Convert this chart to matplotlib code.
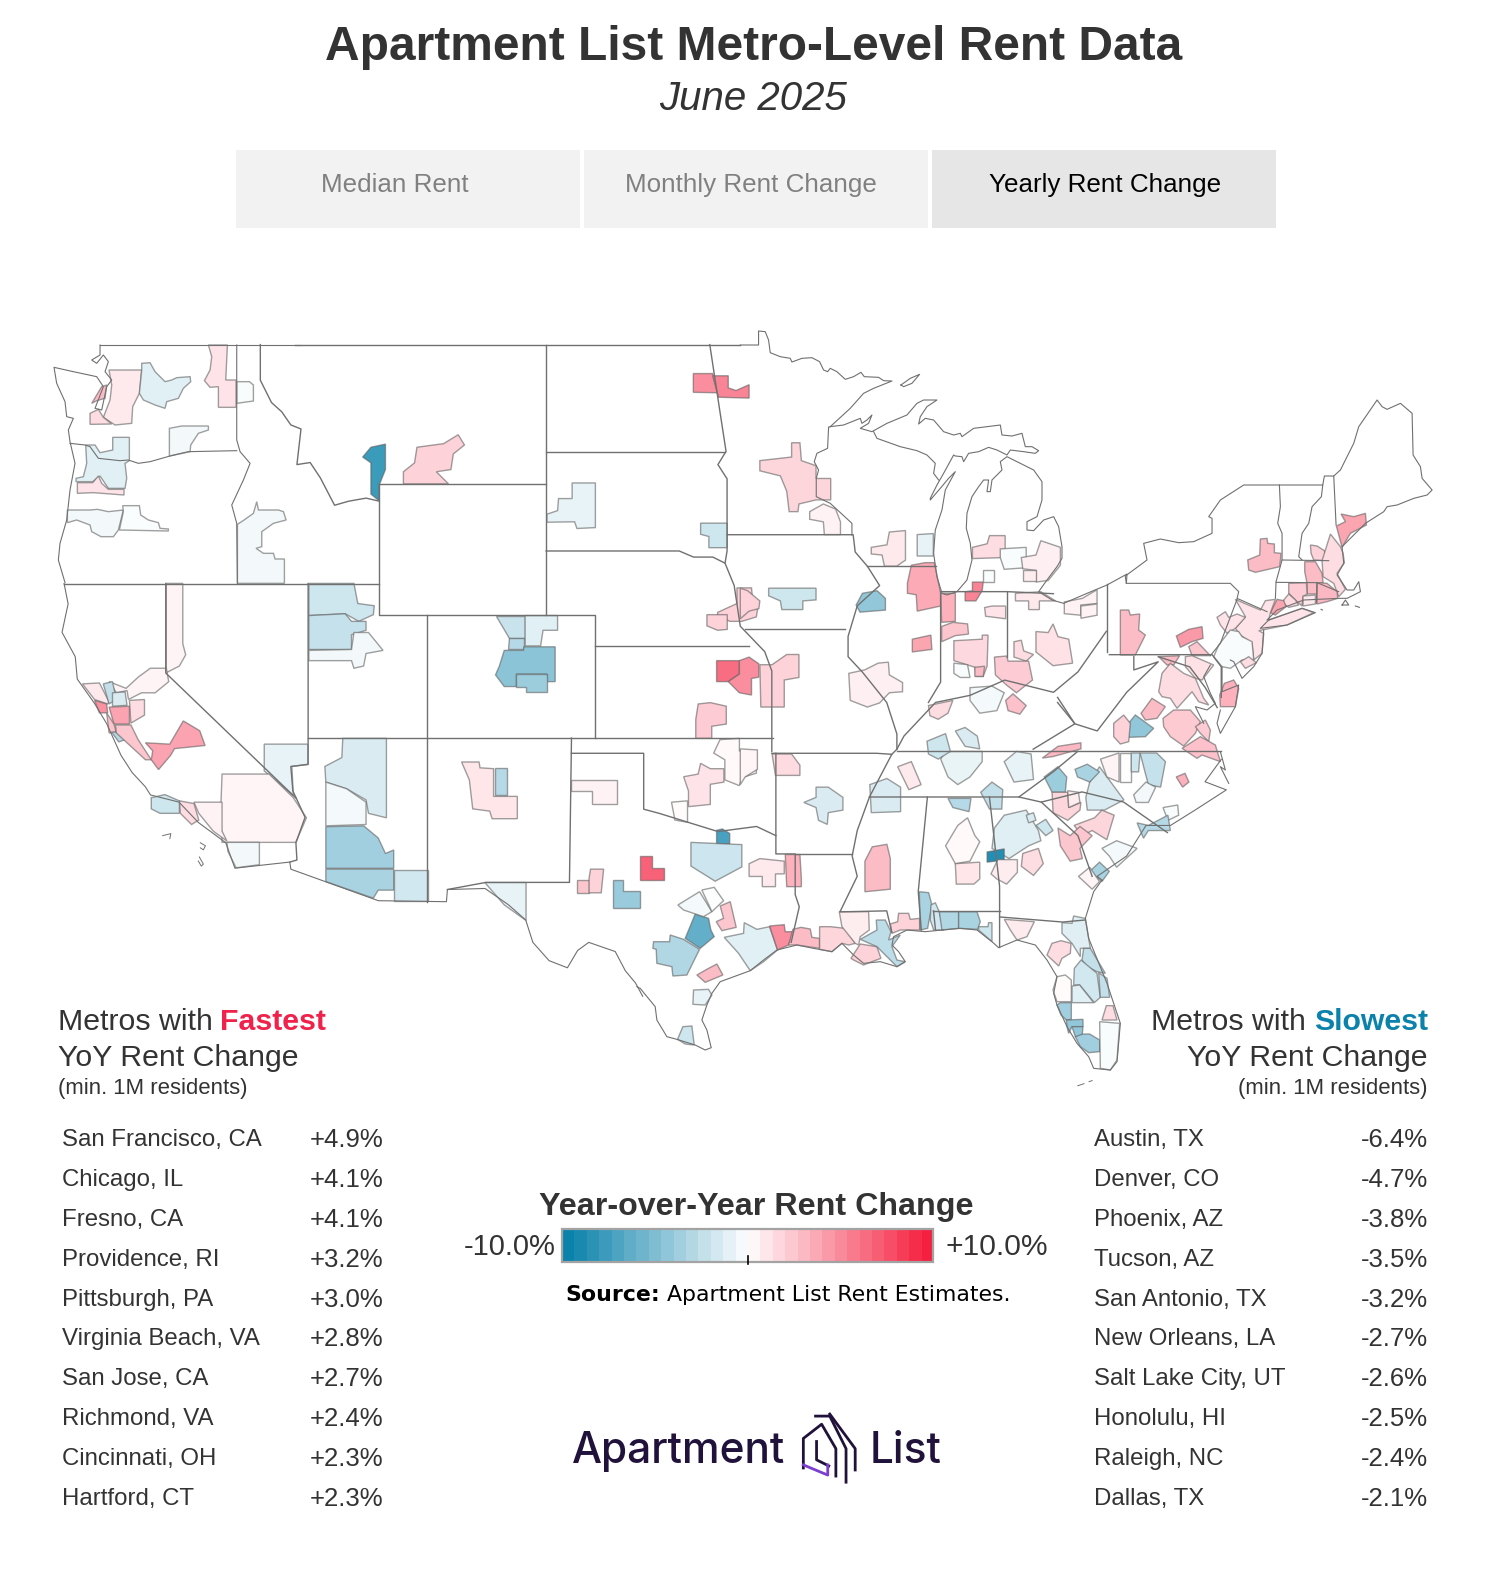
import matplotlib
matplotlib.use('Agg')
import matplotlib.pyplot as plt
from matplotlib.colors import LinearSegmentedColormap
from matplotlib.patches import Polygon, Rectangle
import numpy as np

plt.rcParams['font.family'] = ['Liberation Sans', 'DejaVu Sans']

fastest_names = ['San Francisco, CA', 'Chicago, IL', 'Fresno, CA', 'Providence, RI', 'Pittsburgh, PA',
                 'Virginia Beach, VA', 'San Jose, CA', 'Richmond, VA', 'Cincinnati, OH', 'Hartford, CT']
fastest_values = [4.9, 4.1, 4.1, 3.2, 3.0, 2.8, 2.7, 2.4, 2.3, 2.3]
slowest_names = ['Austin, TX', 'Denver, CO', 'Phoenix, AZ', 'Tucson, AZ', 'San Antonio, TX',
                 'New Orleans, LA', 'Salt Lake City, UT', 'Honolulu, HI', 'Raleigh, NC', 'Dallas, TX']
slowest_values = [-6.4, -4.7, -3.8, -3.5, -3.2, -2.7, -2.6, -2.5, -2.4, -2.1]
tab_labels = ['Median Rent', 'Monthly Rent Change', 'Yearly Rent Change']

# country and state lines
coast_mid = [(63, 574), (67, 594), (61, 622), (74, 646), (76, 668), (93, 692), (105, 712),
             (119, 743), (130, 760), (143, 774), (148, 782), (176, 789), (195, 809), (222, 829), (231, 854), (285, 848), (286, 855),
             (372, 886), (439, 887), (440, 875), (477, 874), (500, 890), (517, 905), (524, 927), (540, 945), (558, 952), (568, 935), (579, 927), (605, 936),
             (615, 955), (625, 967), (632, 980)]
coast_atlantic = [(1084, 866), (1079, 862), (1108, 842), (1127, 812), (1151, 812), (1175, 797), (1206, 777), (1185, 769), (1201, 747)]
state_lines = [
    [(290, 339), (728, 339)],
    [(373, 476), (537, 476), (537, 605), (373, 605), (373, 476)],
    [(256, 339), (256, 374), (267, 396), (277, 405), (286, 418), (296, 422), (292, 457), (305, 455), (315, 470), (329, 497), (343, 493), (360, 490), (373, 493)],
    [(63, 574), (373, 574)],
    [(537, 339), (537, 476)], [(537, 445), (713, 445)],
    [(537, 542), (668, 542), (682, 548), (701, 548), (713, 554)],
    [(420, 605), (420, 887)], [(537, 605), (585, 605), (585, 726)], [(585, 635), (737, 635)],
    [(303, 726), (760, 726)], [(303, 574), (303, 752), (286, 754), (288, 778), (300, 804), (291, 829), (292, 846), (285, 848)],
    [(163, 574), (163, 662), (291, 785)],
    [(562, 726), (560, 868), (478, 868), (440, 875)], [(562, 741), (633, 741), (633, 796), (648, 800), (677, 809),
                                                       (706, 818), (744, 813), (763, 822)],
    [(698, 339), (708, 405), (714, 444), (706, 457), (715, 471), (715, 542), (713, 554), (722, 576), (728, 616), (752, 641), (759, 660), (759, 739)],
    [(759, 741), (862, 741), (877, 742), (855, 784), (843, 817), (838, 842), (843, 862), (826, 897), (872, 896), (877, 917)],
    [(763, 741), (763, 840), (782, 840), (782, 880), (786, 892), (778, 927)], [(782, 840), (838, 840)],
    [(912, 784), (903, 877), (906, 915)], [(855, 784), (1002, 784), (1036, 759), (1060, 739)],
    [(882, 739), (1201, 739)], [(1002, 784), (1024, 789), (1064, 779), (1105, 789), (1148, 819)],
    [(1024, 789), (1060, 822), (1074, 862)], [(973, 784), (983, 872), (983, 932)],
    [(918, 896), (983, 896)], [(918, 896), (920, 915)], [(983, 902), (1045, 907), (1067, 905)],
    [(877, 742), (882, 737), (889, 724), (920, 691), (954, 684), (988, 669), (1036, 681), (1060, 661), (1088, 621)],
    [(1089, 574), (1089, 641)], [(1091, 644), (1192, 644), (1201, 656), (1201, 686)],
    [(1040, 686), (1057, 712), (1079, 719), (1108, 681), (1139, 651), (1115, 659), (1115, 646)],
    [(1040, 691), (1057, 712), (1016, 737)], [(1139, 646), (1170, 656), (1185, 676), (1197, 696)],
    [(925, 584), (925, 671), (913, 691)], [(990, 582), (990, 646)], [(925, 582), (990, 582), (1036, 584)],
    [(853, 557), (920, 557)], [(715, 526), (839, 526), (841, 543), (853, 557), (865, 576), (843, 596), (834, 626),
                               (834, 646), (848, 661), (872, 691), (882, 722), (882, 737)],
    [(733, 619), (831, 619)],
]
islands = [[(160, 822), (168, 820), (167, 825)], [(197, 829), (202, 832), (200, 836), (197, 834)],
           [(196, 843), (200, 850), (198, 852), (195, 847)], [(1060, 1068), (1066, 1066)], [(1071, 1064), (1074, 1063)]]

# finer traces from closer crops: north-west, great lakes, north-east, gulf
nw_lines = [
    [(180, 45), (180, 75), (155, 90), (170, 100), (190, 75), (205, 95), (195, 125), (215, 150), (200, 170), (185, 240),
     (165, 235), (190, 170), (170, 140), (100, 125), (42, 112), (50, 160), (75, 215), (80, 260), (100, 265), (85, 300),
     (90, 335), (105, 400), (90, 480), (80, 570), (60, 640), (55, 690), (75, 758)],
    [(90, 340), (135, 345), (150, 350), (175, 385), (240, 392), (265, 390), (295, 400), (330, 395), (390, 378), (445, 365), (590, 362)],
    [(180, 45), (780, 45)],
    [(590, 45), (590, 330), (600, 365), (630, 400), (610, 450), (575, 525), (590, 580), (592, 760)],
]
lake_lines = [
    [(0, 75), (55, 75), (55, 33), (75, 35), (85, 60), (90, 98), (120, 110), (150, 115), (155, 126), (185, 115), (215, 113),
     (238, 125), (250, 150), (262, 155), (270, 145), (290, 155), (315, 178), (340, 170), (362, 157), (372, 170), (415, 172),
     (430, 182), (455, 183), (400, 205), (370, 220), (330, 265), (270, 320), (265, 322)],
    [(270, 320), (310, 315), (360, 295), (365, 310), (380, 300), (395, 285), (385, 310), (360, 325), (395, 335), (440, 310),
     (500, 285), (530, 250), (550, 240), (590, 240), (560, 260), (540, 290), (535, 312), (555, 295), (580, 300), (610, 335),
     (640, 345), (660, 340), (665, 350), (700, 325), (780, 315), (785, 345), (815, 348), (845, 340), (855, 380), (875, 380),
     (895, 392), (885, 400), (850, 395), (810, 390), (800, 405), (770, 390), (745, 382), (715, 395), (685, 400), (670, 425),
     (665, 410), (645, 408), (640, 405), (610, 460), (590, 495), (570, 535), (570, 540), (600, 505), (625, 475), (645, 455),
     (615, 510), (605, 570), (585, 630), (580, 700), (590, 770), (605, 820), (620, 825), (650, 815), (680, 780), (695, 720),
     (690, 670), (678, 625), (680, 580), (695, 530), (715, 500), (730, 480), (745, 480), (740, 515), (750, 515), (755, 480),
     (785, 450), (780, 425), (800, 410), (830, 425), (880, 450), (905, 485), (905, 540), (890, 590), (860, 605), (860, 630),
     (880, 632), (910, 600), (940, 590), (955, 620), (965, 680), (965, 715), (950, 740), (920, 780), (895, 815), (935, 840),
     (970, 850), (1040, 820), (1100, 795), (1160, 762), (1158, 790)],
    [(400, 335), (410, 355), (480, 380), (530, 392), (560, 405), (585, 430), (580, 460), (595, 480)],
    [(265, 322), (262, 385), (230, 400), (222, 425), (235, 450), (228, 475), (228, 530), (270, 550), (335, 610), (335, 645)],
    [(482, 195), (510, 175), (538, 163), (515, 190), (490, 200), (482, 195)],
]
ne_lines = [
    [(15, 558), (80, 510), (70, 460), (120, 447), (175, 458), (220, 455), (275, 430), (275, 385), (265, 380), (300, 330),
     (370, 285), (477, 285), (607, 285), (612, 258), (640, 258), (660, 240), (700, 160), (715, 110), (770, 30), (785, 50),
     (800, 58), (840, 40), (875, 70), (878, 195), (900, 230), (905, 265), (935, 300), (920, 315), (880, 325), (830, 345),
     (800, 350), (790, 365), (735, 400), (665, 470), (670, 520), (650, 555), (680, 600), (700, 600), (715, 575), (720, 605),
     (680, 625), (655, 625), (550, 630), (470, 660), (440, 690)],
    [(445, 690), (545, 655), (585, 668), (500, 705), (420, 715), (445, 690)],
    [(430, 720), (425, 790), (400, 830), (365, 865), (340, 815), (330, 810)],
    [(15, 560), (18, 580), (330, 580), (355, 605), (350, 625), (440, 665)],
    [(350, 628), (300, 760), (270, 797)],
    [(640, 258), (647, 405)], [(607, 285), (603, 320), (575, 350), (565, 400), (545, 430), (535, 500), (545, 510)],
    [(477, 285), (480, 350), (472, 400), (485, 430), (485, 510), (467, 575), (465, 625)],
    [(485, 510), (625, 512)], [(467, 577), (590, 578), (655, 605)], [(590, 578), (588, 640)],
    [(305, 830), (305, 905), (355, 885), (345, 950), (300, 1030), (290, 1000), (300, 960)],
    [(270, 825), (250, 860), (270, 910), (285, 940), (260, 960), (225, 950), (250, 1000)],
    [(300, 1085), (315, 1140), (300, 1130), (325, 1180)],
    [(665, 645), (675, 630), (685, 645), (665, 645)], [(705, 648), (717, 652)], [(602, 658), (606, 660)],
]
gulf_lines = [
    [(-10, 320), (0, 325), (45, 380), (50, 420), (80, 470), (110, 478), (165, 495), (195, 510), (213, 503), (200, 450),
     (185, 420), (200, 375), (215, 340), (240, 305), (330, 272), (370, 240), (410, 210), (470, 195), (520, 205), (575, 215),
     (605, 190), (640, 225), (670, 250), (720, 245), (770, 260), (795, 245), (775, 215), (755, 195), (760, 170), (800, 150),
     (855, 155), (905, 150), (960, 145), (1010, 150), (1055, 185), (1075, 203), (1130, 180), (1185, 195), (1220, 240),
     (1250, 290), (1240, 340), (1250, 375), (1280, 440), (1310, 490), (1345, 530), (1360, 565), (1410, 570), (1430, 545),
     (1440, 430), (1400, 310), (1345, 175), (1335, 115), (1360, 35), (1385, 0)],
]

# metro shapes off the west crop, same order as west_change
west_shapes = [
    [(765, 330), (795, 323), (795, 380), (782, 415), (782, 450), (765, 435), (765, 365), (748, 352)],
    [(860, 330), (915, 322), (945, 302), (958, 325), (935, 345), (930, 380), (900, 385), (925, 412), (832, 412),
     (832, 385), (855, 365)],
    [(1430, 165), (1470, 165), (1480, 208), (1430, 207)],
    [(1470, 170), (1502, 170), (1502, 197), (1518, 203), (1545, 190), (1545, 220), (1482, 218)],
    [(1128, 480), (1150, 472), (1152, 445), (1180, 445), (1180, 410), (1228, 410), (1228, 510), (1190, 512),
     (1185, 497), (1128, 498)],
    [(1445, 500), (1500, 500), (1500, 555), (1462, 555), (1462, 530), (1445, 525)],
    [(1480, 700), (1520, 680), (1520, 645), (1550, 645), (1552, 670), (1565, 675), (1560, 710), (1530, 720),
     (1505, 720), (1480, 705)],
    [(1458, 705), (1500, 705), (1500, 738), (1480, 740), (1458, 730)],
    [(637, 635), (730, 635), (738, 680), (772, 685), (770, 705), (740, 720), (712, 703), (637, 707)],
    [(637, 707), (712, 703), (725, 720), (755, 720), (755, 740), (725, 750), (725, 783), (637, 783)],
    [(637, 785), (725, 783), (730, 745), (760, 745), (790, 785), (755, 792), (750, 820), (730, 825), (725, 808),
     (637, 808)],
    [(1022, 707), (1083, 707), (1083, 757), (1050, 757)],
    [(1083, 707), (1150, 707), (1150, 740), (1120, 740), (1115, 775), (1083, 775)],
    [(1050, 757), (1080, 757), (1080, 783), (1048, 783)],
    [(1040, 785), (1080, 785), (1080, 777), (1145, 777), (1145, 855), (1128, 855), (1128, 838), (1065, 838),
     (1065, 866), (1040, 866), (1022, 840), (1030, 820)],
    [(1065, 838), (1128, 838), (1128, 878), (1085, 878), (1085, 866), (1065, 866)],
    [(343, 635), (377, 635), (377, 770), (383, 795), (370, 820), (343, 835)],
    [(170, 860), (205, 858), (225, 900), (222, 905), (195, 895)],
    [(225, 855), (260, 870), (285, 845), (310, 825), (343, 825), (348, 855), (320, 880), (292, 880), (265, 895),
     (262, 875), (240, 880)],
    [(213, 860), (232, 855), (240, 895), (225, 905)],
    [(232, 880), (258, 878), (262, 908), (232, 910)],
    [(195, 897), (220, 905), (222, 925), (205, 925)],
    [(225, 912), (267, 910), (267, 950), (235, 950)],
    [(267, 897), (298, 895), (298, 930), (270, 948)],
    [(220, 925), (235, 950), (240, 968), (225, 970)],
    [(230, 968), (250, 968), (258, 985), (245, 990)],
    [(238, 952), (270, 952), (285, 985), (312, 1030), (300, 1030), (270, 1000), (240, 970)],
    [(300, 992), (350, 995), (378, 943), (412, 965), (423, 998), (360, 1005), (352, 1020), (327, 1052), (312, 1030),
     (315, 1010)],
    [(545, 995), (635, 995), (635, 1040), (602, 1045), (605, 1110), (545, 1055)],
    [(458, 1062), (555, 1062), (605, 1115), (632, 1160), (610, 1215), (458, 1215), (455, 1150)],
    [(400, 1125), (458, 1125), (458, 1190), (468, 1212), (440, 1190), (410, 1150)],
    [(370, 1122), (400, 1128), (410, 1165), (395, 1175), (372, 1150)],
    [(312, 1115), (340, 1108), (370, 1122), (370, 1150), (330, 1150), (312, 1140)],
    [(468, 1215), (535, 1215), (535, 1265), (487, 1272), (470, 1235)],
    [(707, 982), (797, 982), (797, 1160), (760, 1150), (755, 1120), (715, 1095), (672, 1080), (670, 1045), (705, 1025)],
    [(672, 1080), (715, 1095), (755, 1125), (755, 1175), (672, 1178)],
    [(672, 1180), (750, 1178), (780, 1205), (795, 1240), (812, 1232), (812, 1273), (672, 1273)],
    [(672, 1275), (812, 1275), (812, 1322), (780, 1322), (770, 1340), (672, 1303)],
    [(812, 1278), (882, 1278), (882, 1347), (812, 1347)],
    [(952, 1035), (988, 1035), (990, 1048), (1018, 1050), (1018, 1112), (1067, 1112), (1067, 1162), (1015, 1162),
     (1010, 1145), (975, 1140), (968, 1075)],
    [(1020, 1048), (1045, 1048), (1045, 1110), (1020, 1110)],
    [(1000, 1305), (1085, 1305), (1085, 1390), (1040, 1355)],
    [(1178, 1075), (1273, 1075), (1273, 1130), (1222, 1130), (1222, 1100), (1178, 1100)],
    [(1190, 1300), (1215, 1300), (1215, 1328), (1190, 1328)],
    [(1215, 1295), (1218, 1275), (1245, 1275), (1240, 1328), (1215, 1328)],
    [(1320, 1245), (1345, 1245), (1345, 1272), (1370, 1272), (1370, 1300), (1320, 1300)],
    [(1265, 1300), (1285, 1300), (1285, 1325), (1320, 1325), (1320, 1362), (1265, 1362)],
    [(1478, 1188), (1490, 1185), (1505, 1195), (1505, 1218), (1478, 1218)],
    [(1425, 1215), (1530, 1220), (1530, 1270), (1475, 1302), (1425, 1268)],
    [(1410, 1068), (1440, 1062), (1445, 1038), (1465, 1050), (1493, 1050), (1493, 1080), (1465, 1085), (1465, 1130),
     (1420, 1135), (1420, 1100)],
    [(1485, 985), (1525, 982), (1525, 1010), (1560, 1015), (1560, 1060), (1530, 1070), (1525, 1088), (1495, 1075),
     (1495, 1030), (1472, 1015)],
    [(1385, 1125), (1418, 1122), (1418, 1170), (1392, 1165)],
    [(1478, 808), (1525, 808), (1525, 838), (1502, 855), (1478, 855)],
    [(1525, 808), (1545, 800), (1565, 815), (1565, 845), (1550, 848), (1550, 885), (1525, 880), (1502, 855), (1525, 838)],
    [(1440, 905), (1465, 902), (1498, 910), (1498, 950), (1468, 955), (1468, 982), (1435, 982), (1435, 940)],
]
west_change = [-8.0, 2.0, 5.0, 5.5, -1.0, -2.0, 2.0,
               2.0, -2.0, -2.4, -0.5, -2.2, -1.2, -3.0, -4.7, -4.0, 0.5, 1.0, 0.5, -2.5, -1.5, 4.9, 4.1, 1.5, 2.7,
               -3.0, 2.5, 4.1, -1.0, 0.4, 0.6, 1.5, -2.0, -0.5, -1.5, -0.4, -3.8, -3.5, -1.8, 1.1, -3.0, -1.0, 0.6,
               2.5, 2.0, 7.0, -4.2, -7.5, -2.1, 1.2, 0.3, 0.2, 6.5, 5.0, 2.3]

# metro shapes off the east crop, same order as east_change
east_shapes = [
    [(40, 715), (65, 715), (95, 695), (120, 695), (120, 740), (90, 745), (90, 798), (42, 798)],
    [(58, 565), (155, 565), (155, 588), (128, 590), (128, 607), (85, 607), (82, 590), (58, 580)],
    [(0, 565), (15, 570), (40, 590), (38, 605), (18, 610), (0, 625)],
    [(250, 575), (280, 570), (297, 585), (297, 608), (245, 612), (237, 598)],
    [(40, 315), (105, 308), (105, 280), (122, 280), (125, 315), (155, 325), (155, 350), (185, 350), (185, 392),
     (155, 392), (120, 400), (118, 415), (100, 415), (95, 375), (82, 345), (40, 335)],
    [(142, 415), (170, 400), (195, 410), (205, 435), (205, 460), (172, 460), (170, 435), (142, 430)],
    [(268, 485), (300, 480), (305, 455), (338, 452), (338, 510), (320, 522), (295, 522), (290, 500), (268, 498)],
    [(362, 460), (395, 458), (395, 502), (362, 502)],
    [(342, 555), (350, 520), (378, 515), (397, 515), (410, 575), (410, 600), (362, 610), (360, 578), (342, 575)],
    [(410, 575), (440, 575), (440, 630), (412, 632)],
    [(412, 640), (435, 632), (465, 635), (467, 655), (440, 658), (412, 670)],
    [(352, 665), (390, 657), (392, 685), (352, 690)],
    [(475, 485), (505, 478), (510, 462), (542, 462), (542, 505), (475, 507)],
    [(532, 488), (585, 485), (585, 525), (540, 528), (532, 505)],
    [(575, 505), (605, 500), (615, 472), (655, 485), (655, 520), (630, 550), (605, 553), (605, 530), (578, 527)],
    [(578, 530), (605, 530), (605, 550), (578, 550)],
    [(460, 572), (475, 570), (475, 553), (497, 553), (495, 570), (482, 590), (460, 590)],
    [(497, 530), (520, 530), (520, 552), (497, 552)],
    [(500, 603), (515, 600), (543, 600), (543, 625), (502, 620)],
    [(563, 575), (615, 572), (645, 590), (612, 590), (612, 607), (590, 607), (590, 590), (563, 590)],
    [(663, 592), (700, 585), (730, 568), (730, 595), (697, 598), (697, 618), (663, 615)],
    [(697, 600), (730, 596), (730, 618), (697, 624)],
    [(437, 668), (495, 665), (495, 657), (507, 657), (505, 718), (497, 738), (482, 738), (480, 720), (437, 707)],
    [(437, 712), (465, 715), (470, 740), (450, 740), (437, 732)],
    [(480, 720), (500, 718), (497, 738), (480, 738)],
    [(605, 650), (630, 652), (640, 635), (650, 660), (672, 665), (680, 712), (640, 717), (605, 690)],
    [(560, 670), (575, 667), (580, 688), (600, 695), (585, 708), (560, 700)],
    [(520, 700), (545, 698), (548, 708), (590, 708), (598, 745), (565, 770), (545, 755), (522, 735)],
    [(470, 760), (515, 757), (540, 770), (525, 805), (490, 810), (470, 785)],
    [(543, 785), (558, 772), (585, 795), (572, 812), (548, 805)],
    [(385, 795), (435, 785), (425, 810), (405, 822), (388, 815)],
    [(222, 732), (255, 725), (282, 712), (303, 710), (305, 735), (332, 750), (332, 768), (305, 770), (285, 790),
     (260, 798), (225, 785)],
    [(420, 885), (495, 885), (495, 905), (470, 935), (445, 950), (425, 935), (410, 900)],
    [(382, 865), (420, 850), (430, 885), (405, 900), (385, 890)],
    [(440, 845), (460, 838), (485, 855), (490, 880), (460, 875)],
    [(540, 905), (565, 885), (595, 890), (600, 940), (560, 945)],
    [(322, 915), (350, 905), (370, 950), (345, 960)],
    [(265, 950), (300, 938), (328, 955), (328, 1003), (268, 1005)],
    [(492, 965), (515, 945), (537, 960), (535, 998), (510, 998)],
    [(425, 977), (472, 977), (468, 1003), (435, 995)],
    [(622, 935), (650, 915), (668, 935), (665, 965), (638, 965)],
    [(618, 898), (650, 875), (697, 868), (697, 880), (640, 895)],
    [(707, 975), (715, 945), (735, 915), (785, 980), (745, 1000), (710, 1000)],
    [(685, 920), (710, 910), (735, 925), (715, 945), (690, 935)],
    [(737, 900), (775, 888), (775, 945), (750, 935)],
    [(777, 888), (800, 888), (800, 945), (777, 945)],
    [(800, 888), (818, 888), (815, 925), (800, 925)],
    [(818, 888), (852, 888), (870, 905), (860, 955), (835, 950), (828, 925)],
    [(805, 970), (830, 945), (850, 955), (835, 985), (810, 985)],
    [(892, 935), (910, 928), (918, 945), (905, 955)],
    [(865, 995), (895, 990), (897, 1010), (875, 1020)],
    [(812, 1025), (835, 1030), (875, 1010), (880, 1040), (835, 1040), (825, 1055)],
    [(638, 965), (670, 965), (672, 995), (697, 985), (695, 1000), (670, 1020), (640, 1005)],
    [(670, 962), (692, 965), (695, 985), (672, 995)],
    [(683, 1030), (725, 1015), (740, 1000), (765, 1010), (750, 1058), (720, 1040), (700, 1050)],
    [(650, 1035), (675, 1050), (695, 1032), (720, 1050), (695, 1075), (700, 1095), (675, 1100), (655, 1070)],
    [(715, 1120), (735, 1102), (755, 1120), (740, 1140)],
    [(740, 1075), (770, 1060), (812, 1075), (770, 1112), (755, 1090)],
    [(692, 1130), (715, 1112), (735, 1140), (720, 1155)],
    [(540, 1010), (585, 1000), (610, 1040), (615, 1060), (590, 1070), (550, 1095), (515, 1075), (520, 1035)],
    [(605, 1030), (625, 1018), (640, 1040), (625, 1050)],
    [(585, 1010), (600, 1005), (605, 1020), (590, 1025)],
    [(505, 1082), (540, 1076), (540, 1098), (505, 1102)],
    [(578, 1085), (610, 1075), (620, 1105), (600, 1128), (575, 1110)],
    [(513, 1125), (527, 1097), (567, 1097), (567, 1122), (545, 1145), (525, 1135)],
    [(445, 1030), (465, 1015), (480, 1050), (490, 1062), (470, 1100), (440, 1105), (420, 1070)],
    [(440, 1105), (490, 1102), (490, 1135), (478, 1145), (442, 1145)],
    [(270, 1072), (300, 1067), (307, 1095), (307, 1155), (255, 1160), (255, 1100)],
    [(92, 1087), (122, 1087), (125, 1135), (125, 1150), (95, 1150)],
    [(18, 1105), (40, 1095), (90, 1100), (90, 1125), (72, 1125), (72, 1150), (45, 1150), (45, 1130), (18, 1130)],
    [(0, 880), (35, 882), (35, 920), (10, 935), (0, 950)],
    [(65, 890), (105, 890), (122, 912), (122, 932), (72, 932)],
    [(130, 985), (155, 975), (155, 955), (180, 955), (210, 975), (210, 1000), (180, 1005), (178, 1028), (160, 1020),
     (155, 995)],
]
east_change = [2.0, -2.0, 2.0, -4.5, 1.8, 0.6, 1.0, -1.0, 3.8, 3.5, 2.5, 4.0, 1.5, -0.3, 0.7, 0.8, 5.5, -0.2, 1.2, 1.0,
               0.6, 0.6, 1.7, -0.3, 3.0, 1.3, 1.5, 2.3, -0.4, 2.8, 1.5, 0.7, -0.9, -2.0, -1.5, -1.0, 1.0, -1.5, -2.5,
               -3.0, -4.0, 3.2, -1.5, -3.5, 0.5, 0.0, -2.0, -2.4, -0.5, 3.5, -0.3, -3.0, 1.8, 0.8, 1.8, 2.5, -3.5, -0.4,
               0.4, -1.3, -2.0, -1.5, -9.0, 1.5, 0.8, 0.3, 1.1, 3.0, 3.5, 1.0, 0.4, 1.6, -1.5]

nw_shapes = [
    [(207, 120), (305, 120), (298, 190), (278, 230), (275, 280), (225, 285), (190, 262), (210, 210), (215, 165)],
    [(185, 170), (200, 165), (195, 205), (170, 212), (155, 220)],
    [(150, 250), (175, 238), (190, 262), (215, 282), (150, 283)],
    [(305, 120), (305, 100), (330, 98), (345, 125), (375, 155), (395, 150), (410, 143), (450, 140), (452, 155), (430, 175),
     (415, 205), (380, 215), (375, 235), (345, 225), (310, 210), (298, 190)],
    [(505, 45), (562, 45), (557, 150), (588, 150), (588, 232), (535, 232), (535, 170), (510, 172), (493, 152), (510, 120), (515, 80)],
    [(590, 155), (628, 155), (640, 165), (640, 213), (590, 220)],
    [(388, 295), (425, 288), (505, 288), (505, 300), (475, 310), (452, 345), (450, 365), (388, 378)],
    [(137, 345), (165, 345), (180, 368), (218, 360), (218, 322), (268, 322), (268, 392), (255, 400), (260, 445), (255, 475),
     (205, 475), (180, 438), (158, 455), (108, 455), (108, 445), (130, 440), (140, 400)],
    [(112, 458), (158, 458), (175, 438), (185, 460), (205, 478), (252, 478), (252, 495), (160, 488), (112, 490)],
    [(82, 540), (150, 540), (172, 538), (205, 545), (250, 540), (235, 600), (220, 620), (183, 620), (155, 605), (150, 585),
     (110, 570), (82, 578)],
    [(248, 527), (298, 527), (302, 555), (325, 570), (355, 578), (360, 595), (385, 597), (385, 603), (238, 600), (250, 545)],
    [(592, 583), (612, 570), (640, 550), (650, 515), (655, 540), (715, 540), (730, 545), (738, 570), (700, 580), (665, 605),
     (665, 650), (648, 655), (670, 670), (700, 670), (705, 687), (733, 687), (733, 760), (592, 760)],
]
nw_change = [1.0, 3.0, 1.5, -1.2, 1.2, -0.3, -0.5, -1.2, 1.2, -0.5, -0.2, -0.5]

gulf_shapes = [
    [(165, 102), (205, 115), (212, 150), (222, 170), (180, 205), (135, 175)],
    [(40, 185), (88, 185), (90, 165), (130, 178), (178, 208), (140, 285), (98, 288), (95, 260), (50, 250), (48, 208), (38, 205)],
    [(113, 75), (178, 35), (215, 95), (190, 110), (160, 100), (130, 90)],
    [(185, 30), (222, 22), (250, 62), (215, 95)],
    [(240, 78), (270, 65), (288, 142), (245, 152), (228, 125), (250, 115)],
    [(170, 285), (205, 265), (230, 252), (248, 285), (195, 307)],
    [(112, 478), (128, 440), (155, 438), (162, 495), (135, 492)],
    [(160, 330), (205, 328), (215, 345), (195, 375), (158, 373)],
    [(252, 172), (310, 160), (312, 128), (350, 148), (388, 140), (412, 210), (370, 245), (330, 272), (295, 220)],
    [(388, 138), (432, 134), (435, 155), (460, 155), (445, 195), (412, 210)],
    [(458, 148), (482, 142), (510, 147), (515, 172), (538, 175), (538, 205), (470, 195), (445, 195)],
    [(538, 140), (570, 140), (615, 145), (645, 190), (625, 195), (605, 190), (575, 215), (538, 208)],
    [(597, 95), (685, 95), (687, 150), (660, 170), (655, 195), (645, 190), (605, 140)],
    [(632, 235), (660, 192), (710, 200), (722, 235), (695, 245), (670, 255), (640, 240)],
    [(660, 178), (710, 150), (708, 120), (735, 120), (752, 155), (745, 180), (780, 165), (755, 200), (770, 240), (795, 245),
     (770, 260), (725, 215), (710, 200)],
    [(750, 132), (772, 125), (775, 100), (805, 100), (810, 118), (838, 115), (838, 150), (780, 150), (755, 160)],
    [(837, 35), (865, 38), (875, 75), (862, 145), (840, 150)],
    [(872, 75), (885, 68), (897, 95), (910, 150), (880, 150), (870, 120)],
    [(897, 95), (955, 95), (955, 145), (905, 150)],
    [(955, 95), (1010, 95), (1020, 125), (1012, 148), (955, 145)],
    [(1015, 140), (1043, 140), (1045, 128), (1055, 128), (1055, 185), (1015, 150)],
    [(1092, 118), (1182, 125), (1160, 170), (1130, 180), (1110, 150)],
    [(1220, 225), (1235, 190), (1262, 182), (1292, 190), (1290, 220), (1265, 235), (1255, 258)],
    [(1265, 128), (1295, 130), (1300, 108), (1335, 115), (1350, 205), (1320, 205), (1320, 230), (1295, 190), (1265, 160)],
    [(1330, 205), (1350, 205), (1395, 280), (1370, 275), (1340, 260), (1325, 240)],
    [(1302, 265), (1322, 240), (1370, 280), (1380, 352), (1362, 368), (1318, 315), (1300, 315)],
    [(1375, 278), (1400, 295), (1408, 352), (1380, 352)],
    [(1295, 318), (1318, 315), (1360, 368), (1295, 368)],
    [(1250, 290), (1275, 285), (1293, 300), (1293, 365), (1250, 365), (1238, 330)],
    [(1250, 375), (1260, 368), (1293, 368), (1293, 418), (1278, 420), (1262, 405)],
    [(1278, 420), (1328, 418), (1328, 440), (1295, 440), (1285, 460), (1280, 440)],
    [(1295, 440), (1328, 440), (1325, 470), (1305, 470)],
    [(1305, 470), (1328, 462), (1348, 462), (1378, 480), (1378, 515), (1345, 518), (1320, 500)],
    [(1378, 425), (1438, 430), (1430, 540), (1410, 570), (1380, 565)],
    [(1385, 420), (1398, 377), (1418, 377), (1430, 420)],
]
gulf_change = [-6.4, -3.2, -0.4, -0.1, 2.5, 3.0, -2.0, -1.0, -1.2, 5.0, 3.0, 1.8, 0.8, 2.0, -2.7, 2.0, -3.5, -1.8, -3.2, -3.5,
               -2.0, 0.9, 1.5, -1.3, -2.5, -1.8, -2.5, -1.2, 0.2, -3.8, -4.5, -4.5, -3.8, -0.3, 1.5]

ne_shapes = [
    [(382, 510), (418, 495), (420, 447), (440, 445), (442, 460), (462, 462), (462, 488), (482, 490), (478, 530), (405, 547), (385, 540)],
    [(648, 408), (675, 395), (662, 372), (700, 380), (735, 370), (738, 405), (690, 430), (665, 472)],
    [(570, 465), (590, 468), (612, 482), (620, 512), (580, 510), (572, 490)],
    [(615, 480), (630, 432), (660, 470), (668, 490), (672, 518), (650, 550), (675, 598), (655, 620), (640, 580), (608, 560), (605, 512)],
    [(553, 515), (585, 515), (605, 550), (608, 578), (590, 580), (590, 612), (560, 612), (560, 580), (553, 545)],
    [(590, 578), (620, 580), (650, 605), (652, 625), (620, 635), (590, 642)],
    [(505, 580), (558, 578), (560, 612), (548, 620), (545, 648), (525, 630), (505, 610)],
    [(548, 618), (585, 615), (585, 642), (548, 648)],
    [(490, 630), (505, 612), (525, 630), (535, 645), (505, 652), (488, 640)],
    [(450, 668), (470, 628), (490, 632), (497, 650), (465, 675)],
    [(345, 628), (372, 640), (420, 660), (435, 632), (465, 628), (450, 668), (445, 690), (545, 655), (580, 668), (500, 705),
     (415, 722), (430, 730), (425, 790), (400, 810), (395, 760), (360, 735), (345, 715), (375, 680)],
    [(290, 682), (315, 665), (325, 682), (350, 672), (375, 682), (345, 715), (320, 730), (300, 705)],
    [(280, 800), (295, 765), (330, 720), (355, 725), (365, 740), (395, 755), (400, 810), (365, 810), (330, 835), (305, 830)],
    [(360, 815), (385, 800), (408, 818), (375, 835)],
    [(168, 738), (205, 718), (245, 710), (248, 745), (215, 755), (180, 772)],
    [(205, 770), (230, 755), (270, 797), (215, 797)],
    [(0, 660), (25, 660), (30, 675), (58, 672), (55, 720), (75, 735), (45, 795), (0, 795)],
    [(115, 800), (178, 797), (160, 825), (140, 825)],
    [(195, 800), (215, 797), (280, 825), (245, 870), (225, 865), (195, 830)],
    [(115, 905), (125, 850), (150, 820), (190, 850), (225, 865), (250, 925), (265, 945), (235, 935), (215, 905), (170, 955),
     (150, 925), (125, 920)],
    [(298, 915), (312, 880), (340, 870), (355, 895), (345, 950), (300, 950)],
    [(62, 970), (95, 925), (135, 950), (110, 985), (75, 990)],
    [(12, 1015), (45, 975), (100, 1015), (75, 1040), (25, 1042)],
    [(-20, 1000), (10, 975), (30, 1000), (25, 1055), (0, 1062), (-20, 1040)],
    [(128, 985), (160, 960), (210, 960), (240, 995), (225, 1030), (190, 1068), (150, 1040), (130, 1010)],
    [(225, 1010), (255, 990), (270, 1020), (265, 1055), (240, 1030)],
    [(185, 1075), (240, 1040), (285, 1065), (300, 1115), (245, 1095), (230, 1105)],
]
ne_change = [3.0, 4.0, 2.0, 1.5, 3.0, 3.2, 2.3, 1.0, 1.5, 4.0, 1.2, 1.2, -0.3, 1.5, 4.5, 2.5, 3.0, 3.0, 1.3, 1.5, 3.5, 3.0,
             -4.5, 2.0, 2.4, 2.3, 2.8]

rent_cmap = LinearSegmentedColormap.from_list('rent', ['#0b82ab', '#ffffff', '#f5203f'])


def west_to_map(pts):
    pts = np.array(pts, dtype=float)
    return np.c_[pts[:, 0] * 0.4768, 295 + pts[:, 1] * 0.4392]


def east_to_map(pts):
    pts = np.array(pts, dtype=float)
    return np.c_[728 + pts[:, 0] * 0.4806, 295 + pts[:, 1] * 0.5019]


def crop_to_map(pts, x0, y0):
    pts = np.array(pts, dtype=float)
    return np.c_[(x0 + pts[:, 0] / 3) * 0.9837, (y0 + pts[:, 1] / 3) * 0.9837]


fig = plt.figure(figsize=(15.06, 15.94), dpi=100)
ax = fig.add_axes([0, 0, 1, 1])
ax.set_xlim(0, 1481)
ax.set_ylim(1568, 0)
ax.axis('off')

dark = '#333333'
ax.text(741, 47, 'Apartment List Metro-Level Rent Data', fontsize=34.5, fontweight='bold', color=dark, ha='center', va='center')
ax.text(741, 97, 'June 2025', fontsize=29, style='italic', color=dark, ha='center', va='center')

tab_x = [232, 574.5, 917]
tab_mid = [388, 738.5, 1086.5]
for i, label in enumerate(tab_labels):
    active = i == 2
    ax.add_patch(Rectangle((tab_x[i], 148), 338, 76, color='#e6e6e6' if active else '#f2f2f2', lw=0))
    ax.text(tab_mid[i], 182, label, fontsize=18.7, ha='center', va='center',
            color='black' if active else '#808080')

# metros first, lines on top
metro_groups = [(west_shapes, west_change, west_to_map), (east_shapes, east_change, east_to_map),
                (nw_shapes, nw_change, lambda p: crop_to_map(p, 40, 330)),
                (gulf_shapes, gulf_change, lambda p: crop_to_map(p, 640, 880)),
                (ne_shapes, ne_change, lambda p: crop_to_map(p, 1120, 390))]
for shapes, changes, to_map in metro_groups:
    for shape, change in zip(shapes, changes):
        ax.add_patch(Polygon(to_map(shape), closed=True, facecolor=rent_cmap((change + 10) / 20),
                             edgecolor=(0.38, 0.38, 0.38, 0.6), lw=1.0, zorder=2))

line_color = '#707070'
ax.plot(*zip(*coast_mid), color=line_color, lw=0.8, zorder=3)
ax.plot(*zip(*coast_atlantic), color=line_color, lw=0.8, zorder=3)
for line in state_lines:
    ax.plot(*zip(*line), color=line_color, lw=1.0, zorder=3)
for isle in islands:
    ax.plot(*zip(*isle), color=line_color, lw=0.7, zorder=3)
for lines, x0, y0 in [(nw_lines, 40, 330), (lake_lines, 740, 320), (ne_lines, 1120, 390), (gulf_lines, 640, 880)]:
    for line in lines:
        xy = crop_to_map(line, x0, y0)
        ax.plot(xy[:, 0], xy[:, 1], color=line_color, lw=0.8, zorder=3)

# side panels
ax.text(57, 1005, 'Metros with ', fontsize=21.8, color=dark, va='center')
ax.text(216, 1005, 'Fastest', fontsize=21.8, fontweight='bold', color='#f0214a', va='center')
ax.text(57, 1041, 'YoY Rent Change', fontsize=21.8, color=dark, va='center')
ax.text(57, 1071, '(min. 1M residents)', fontsize=15.9, color=dark, va='center')
ax.text(1404, 1005, 'Slowest', fontsize=21.8, fontweight='bold', color='#0b82ab', va='center', ha='right')
ax.text(1284, 1005, 'Metros with', fontsize=21.8, color=dark, va='center', ha='right')
ax.text(1404, 1041, 'YoY Rent Change', fontsize=21.8, color=dark, va='center', ha='right')
ax.text(1404, 1071, '(min. 1M residents)', fontsize=15.9, color=dark, va='center', ha='right')

row_y = 1121 + 39.33 * np.arange(10)
for y, name, val in zip(row_y, fastest_names, fastest_values):
    ax.text(61, y, name, fontsize=17.3, color=dark, va='center')
    ax.text(377.5, y, f'{val:+.1f}%', fontsize=18.5, color=dark, va='center', ha='right')
for y, name, val in zip(row_y, slowest_names, slowest_values):
    ax.text(1076, y, name, fontsize=17.3, color=dark, va='center')
    ax.text(1404, y, f'{val:+.1f}%', fontsize=18.5, color=dark, va='center', ha='right')

# legend
ax.text(744, 1187, 'Year-over-Year Rent Change', fontsize=23.2, fontweight='bold', color=dark, ha='center', va='center')
steps = np.linspace(0, 1, 30)[None, :]
ax.imshow(steps, cmap=rent_cmap, extent=(553, 918, 1241, 1209), aspect='auto', interpolation='nearest', zorder=2)
ax.set_xlim(0, 1481)
ax.set_ylim(1568, 0)
ax.add_patch(Rectangle((553, 1209), 365, 32, fill=False, edgecolor='#a3a3a3', lw=1.6, zorder=3))
ax.plot([736, 736], [1236, 1243], color='black', lw=1.2, zorder=4)
ax.text(546, 1227, '-10.0%', fontsize=21, color=dark, ha='right', va='center')
ax.text(930, 1227, '+10.0%', fontsize=21.6, color=dark, ha='left', va='center')
ax.text(556, 1274, 'Source:', fontsize=15.8, fontweight='bold', family='DejaVu Sans', color='black', va='center')
ax.text(656, 1274, 'Apartment List Rent Estimates.', fontsize=15.8, family='DejaVu Sans', color='black', va='center')

# logo
logo = '#20123a'
ax.text(562, 1428, 'Apartment', fontsize=30.5, family='Inter', fontweight='medium', color=logo, va='center')
ax.text(855, 1428, 'List', fontsize=30.5, family='Inter', fontweight='medium', color=logo, va='center')
ax.plot([790, 790, 808, 822, 822], [1444, 1415, 1401, 1425, 1452], color=logo, lw=2)
ax.plot([802, 816, 832, 832], [1393, 1393, 1425, 1458], color=logo, lw=2)
ax.plot([816, 841, 841], [1391, 1425, 1446], color=logo, lw=2)
ax.plot([803, 803, 815], [1418, 1436, 1442], color=logo, lw=2)
ax.plot([790, 814, 814], [1441, 1451, 1441], color='#7b3fd1', lw=2)

fig.savefig('out.png', dpi=100, facecolor='white')
